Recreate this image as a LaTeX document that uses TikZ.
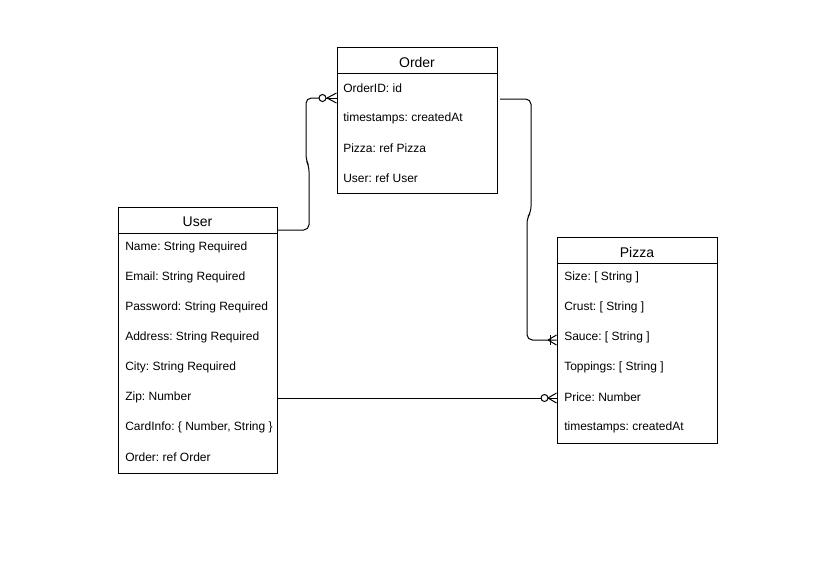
\documentclass[tikz,border=0pt]{standalone}
\usepackage{fontspec}
\setmainfont{Liberation Sans}
\usetikzlibrary{calc}
\frenchspacing
\begin{document}
\begin{tikzpicture}[x=0.75pt,y=-0.75pt,
  entity/.style={draw=black,line width=0.75pt,inner sep=0pt,fill=white},
  title/.style={font=\fontsize{10.5}{12}\selectfont\frenchspacing,inner sep=0pt},
  row/.style={font=\fontsize{9}{11}\selectfont\frenchspacing,anchor=west,inner sep=0pt},
  conn/.style={line width=0.75pt,rounded corners=4pt},
  crow/.style={line width=0.75pt}]
\useasboundingbox[fill=white] (0,0) rectangle (818,579);

% Order
\node[entity,minimum width=120pt,minimum height=109.5pt] (order) at (417,120) {};
\draw[line width=0.75pt] (337,73) -- (497,73);
\node[title] (ordert) at (417,62) {Order};
\node[row] (o1) at (343,88.5) {OrderID: id};
\node[row] (o2) at (343,118.5) {timestamps: createdAt};
\node[row] (o3) at (343,148.5) {Pizza: ref Pizza};
\node[row] (o4) at (343,178.5) {User: ref User};

% User
\node[entity,minimum width=119.25pt,minimum height=199.5pt] (user) at (197.5,340) {};
\draw[line width=0.75pt] (118,233) -- (277,233);
\node[title] (usert) at (197.5,222) {User};
\node[row] (u1) at (125,247.5) {Name: String Required};
\node[row] (u2) at (125,277.5) {Email: String Required};
\node[row] (u3) at (125,307.5) {Password: String Required};
\node[row] (u4) at (125,337.5) {Address: String Required};
\node[row] (u5) at (125,367.5) {City: String Required};
\node[row] (u6) at (125,397.5) {Zip: Number};
\node[row] (u7) at (125,427.5) {CardInfo: \{ Number, String \}};
\node[row] (u8) at (125,457.5) {Order: ref Order};

% Pizza
\node[entity,minimum width=120pt,minimum height=154.5pt] (pizza) at (637,340) {};
\draw[line width=0.75pt] (557,263) -- (717,263);
\node[title] (pizzat) at (637,252) {Pizza};
\node[row] (p1) at (564,277.5) {Size: [ String ]};
\node[row] (p2) at (564,307.5) {Crust: [ String ]};
\node[row] (p3) at (564,337.5) {Sauce: [ String ]};
\node[row] (p4) at (564,367.5) {Toppings: [ String ]};
\node[row] (p5) at (564,397.5) {Price: Number};
\node[row] (p6) at (564,427.5) {timestamps: createdAt};

% connector end points
\coordinate (uA) at (user.east |- 0,230);
\coordinate (oA) at (order.west |- 0,98);
\coordinate (oB) at (500,99);
\coordinate (pB) at (pizza.west |- 0,340);
\coordinate (uC) at (user.east |- 0,398);
\coordinate (pC) at (pizza.west |- 0,398);

% User -> Order (zero or many)
\draw[conn] (uA) -- (309,230) -- (309,166) -- (306,160) -- (306,98) -- (319,98);
\draw[crow] (322.5,98) circle (3.5);
\draw[crow] (326,98) -- (oA);
\draw[crow] (327,98) -- ($(oA)+(0,-5)$);
\draw[crow] (327,98) -- ($(oA)+(0,5)$);

% Order -> Pizza (one or many)
\draw[conn] (oB) -- (531,99) -- (531,212) -- (527,218) -- (527,340) -- (pB);
\draw[crow] (550,335) -- (550,345);
\draw[crow] (548,340) -- ($(pB)+(0,-5)$);
\draw[crow] (548,340) -- ($(pB)+(0,5)$);

% User -> Pizza (zero or many)
\draw[conn] (uC) -- (541,398);
\draw[crow] (544.5,398) circle (3.5);
\draw[crow] (548,398) -- (pC);
\draw[crow] (548,398) -- ($(pC)+(0,-5)$);
\draw[crow] (548,398) -- ($(pC)+(0,5)$);
\end{tikzpicture}
\end{document}
